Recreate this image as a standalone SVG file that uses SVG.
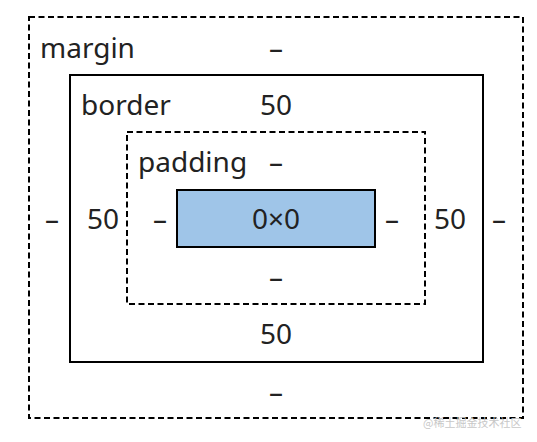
<svg xmlns="http://www.w3.org/2000/svg" width="537" height="442" viewBox="0 0 537 442">
<style>
.box{fill:none;stroke:#000;stroke-width:2}
.dash{stroke-dasharray:6 3.5}
text{font-family:"Noto Sans","Open Sans","DejaVu Sans",sans-serif;font-size:28px;fill:#222}
.c{text-anchor:middle}
.wm{font-family:"Noto Sans CJK SC","Noto Sans",sans-serif;font-size:11px;fill:#c8c8c8}
</style>
<rect width="537" height="442" fill="#fff"/>
<g id="margin">
<rect class="box dash" x="29" y="17" width="494" height="401"/>
<text x="40" y="58">margin</text>
<text class="c" x="276" y="58">–</text>
<text class="c" x="52" y="229">–</text>
<text class="c" x="499" y="229">–</text>
<text class="c" x="276" y="402">–</text>
</g>
<g id="border">
<rect class="box" x="70" y="75" width="413" height="287"/>
<text x="81" y="115">border</text>
<text class="c" x="276" y="115">50</text>
<text class="c" x="103" y="229">50</text>
<text class="c" x="450" y="229">50</text>
<text class="c" x="276" y="344">50</text>
</g>
<g id="padding">
<rect class="box dash" x="127" y="132" width="298" height="172"/>
<text x="138" y="172">padding</text>
<text class="c" x="276" y="172">–</text>
<text class="c" x="160" y="229">–</text>
<text class="c" x="392" y="229">–</text>
<text class="c" x="276" y="287">–</text>
</g>
<g id="content">
<rect x="177" y="190" width="198" height="57" fill="#9fc5e8" stroke="#000" stroke-width="2"/>
<text class="c" x="276" y="229">0×0</text>
</g>
<g id="connectors"></g>
<text class="wm" x="423" y="427">@稀土掘金技术社区</text>
</svg>
